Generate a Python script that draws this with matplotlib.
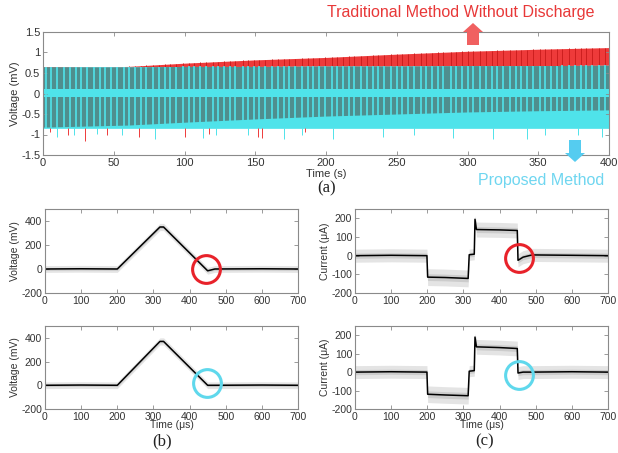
import numpy as np
import matplotlib.pyplot as plt
from matplotlib.patches import FancyArrow

plt.rcParams['font.family'] = ['Liberation Sans', 'DejaVu Sans']
plt.rcParams['axes.unicode_minus'] = False

# ---- (a) long-term recording, envelopes ----
t_env = [0, 60, 100, 150, 200, 250, 300, 350, 400]
red_hi = [0.63, 0.66, 0.74, 0.82, 0.88, 0.96, 1.03, 1.08, 1.12]
red_lo = [-0.82, -0.77, -0.70, -0.62, -0.55, -0.50, -0.45, -0.42, -0.40]
cyan_hi = [0.65, 0.65, 0.66, 0.66, 0.67, 0.67, 0.68, 0.68, 0.69]
cyan_lo = [-0.85, -0.85, -0.85, -0.85, -0.85, -0.85, -0.85, -0.85, -0.85]

pulse_t = [2, 6, 10, 15, 19, 23, 27, 31, 36, 40, 44, 48, 52, 57, 61, 65, 69, 73,
           78, 82, 86, 90, 94, 99, 103, 107, 111, 115, 120, 124, 128, 132, 136,
           141, 145, 149, 153, 157, 162, 166, 170, 174, 178, 183, 187, 191, 195,
           199, 204, 208, 212, 216, 220, 225, 229, 233, 237, 241, 246, 250, 254,
           258, 262, 267, 271, 275, 279, 283, 288, 292, 296, 300, 304, 309, 313,
           317, 321, 325, 330, 334, 338, 342, 346, 351, 355, 359, 363, 367, 372,
           376, 380, 384, 388, 393, 397]

cyan_spike_t = [10, 22, 38, 56, 79, 113, 122, 145, 170, 183, 205, 240, 262, 290,
                318, 342, 355, 378, 395]
cyan_spike_v = [-1.05, -1.0, -0.98, -1.02, -1.12, -1.08, -1.0, -1.02, -1.1, -1.0,
                -1.1, -1.05, -1.02, -1.08, -1.1, -1.12, -1.02, -1.0, -1.05]
red_spike_t = [5, 18, 30, 45, 68, 100, 117, 152, 155, 185]
red_spike_v = [-0.95, -1.0, -1.15, -1.0, -1.05, -1.05, -0.98, -1.05, -1.08, -0.95]

# ---- (b) voltage, (c) current: mean traces and noise half-widths ----
tb = [0, 100, 200, 318, 328, 450, 470, 600, 700]
vb_top = [0, 2, 0, 350, 350, -15, 0, 2, 0]
vb_bot = [0, 2, 0, 370, 370, 0, 0, 2, 0]
nb = [28, 28, 28, 30, 30, 28, 28, 28, 28]

tc = [0, 100, 199, 201, 250, 313, 316, 330, 332, 336, 400, 449, 451, 465, 490, 600, 700]
ic_top = [0, 2, 0, -115, -117, -122, 5, 8, 195, 140, 138, 135, -25, -8, 4, 2, 0]
ic_bot = [0, 2, 0, -120, -124, -128, 5, 8, 190, 137, 133, 128, -5, 0, 0, 2, 0]
nc = [35, 35, 35, 45, 45, 45, 30, 30, 20, 40, 40, 40, 35, 35, 35, 35, 35]

ya_ticks = [-1.5, -1, -0.5, 0, 0.5, 1, 1.5]
ya_labels = ['-1.5', '-1', '-0.5', '0', '0.5', '1', '1.5']

RED = '#ee3a3a'
CYAN = '#4fe3ea'
TEAL = '#4f8e8e'
GRID = '#8a8a8a'
TXT = '#333333'

fig = plt.figure(figsize=(6.18, 4.53), dpi=100)


def style(ax, fs):
    for s in ax.spines.values():
        s.set_color(GRID)
        s.set_linewidth(0.8)
    ax.tick_params(direction='in', length=3, width=0.6, color=GRID,
                   labelsize=fs, labelcolor=TXT, top=True, right=True, pad=2)


# (a)
ax = fig.add_axes([43 / 618, 1 - 155 / 453, 566 / 618, 123 / 453])
ax.fill_between(t_env, cyan_lo, cyan_hi, color=CYAN, lw=0)
ax.fill_between(t_env, cyan_hi, red_hi, color=RED, lw=0)
ax.fill_between(t_env, red_lo, cyan_hi, color=TEAL, lw=0)
pt = np.array(pulse_t)
top_red = np.maximum(np.interp(pt, t_env, red_hi), np.interp(pt, t_env, cyan_hi))
ax.vlines(pt, np.interp(pt, t_env, cyan_hi), top_red, color='#cc1f1f', lw=0.7)
ax.vlines(pt, np.interp(pt, t_env, cyan_lo), np.interp(pt, t_env, cyan_hi),
          color=CYAN, lw=1.2)
ax.vlines(red_spike_t, -0.85, red_spike_v, color=RED, lw=0.7)
ax.vlines(cyan_spike_t, -0.85, cyan_spike_v, color=CYAN, lw=0.7)
ax.fill_between(t_env, -0.09, 0.11, color=CYAN, lw=0)
ax.set_xlim(0, 400)
ax.set_ylim(-1.5, 1.5)
ax.set_xticks(range(0, 401, 50))
ax.set_yticks(ya_ticks)
ax.set_yticklabels(ya_labels)
ax.set_ylabel('Voltage (mV)', fontsize=8, color=TXT, labelpad=1)
ax.set_xlabel('Time (s)', fontsize=8, color=TXT, labelpad=1)
style(ax, 8)


def panel(rect, t, y, n, ylim, yt, ylab, circ, ccol, xlab):
    a = fig.add_axes(rect)
    y = np.array(y, float)
    n = np.array(n, float)
    a.fill_between(t, y - n, y + n, color='#e4e4e4', lw=0)
    a.fill_between(t, y - n / 2.5, y + n / 2.5, color='#cccccc', lw=0)
    a.plot(t, y, color='black', lw=1.1)
    a.plot([circ[0]], [circ[1]], 'o', ms=20, mfc='none', mec=ccol, mew=2.2)
    a.set_xlim(0, 700)
    a.set_ylim(*ylim)
    a.set_xticks(range(0, 701, 100))
    a.set_yticks(yt)
    a.set_ylabel(ylab, fontsize=7.5, color=TXT, labelpad=1)
    if xlab:
        a.set_xlabel('Time (\u03bcs)', fontsize=7.5, color=TXT, labelpad=-1)
    style(a, 7.5)
    return a


CRED = '#e8222a'
CCY = '#5fd8ec'
wl = 253 / 618
panel([45 / 618, 1 - 293 / 453, wl, 84 / 453], tb, vb_top, nb, (-200, 500),
      [-200, 0, 200, 400], 'Voltage (mV)', (445, 0), CRED, False)
panel([45 / 618, 1 - 409 / 453, wl, 83 / 453], tb, vb_bot, nb, (-200, 500),
      [-200, 0, 200, 400], 'Voltage (mV)', (447, 20), CCY, True)
panel([355 / 618, 1 - 293 / 453, wl, 84 / 453], tc, ic_top, nc, (-200, 250),
      [-200, -100, 0, 100, 200], 'Current (\u03bcA)', (454, -15), CRED, False)
panel([355 / 618, 1 - 409 / 453, wl, 83 / 453], tc, ic_bot, nc, (-200, 250),
      [-200, -100, 0, 100, 200], 'Current (\u03bcA)', (454, -15), CCY, True)

# annotations
fig.text(461 / 618, 1 - 13 / 453, 'Traditional Method Without Discharge',
         color='#e83838', fontsize=11.5, ha='center', va='center')
fig.text(541 / 618, 1 - 180 / 453, 'Proposed Method',
         color='#6fd6f0', fontsize=11.5, ha='center', va='center')
fig.patches.append(FancyArrow(473 / 618, 1 - 45 / 453, 0, 22 / 453,
                              width=12 / 618, head_width=20 / 618,
                              head_length=9 / 453, length_includes_head=True,
                              color='#f06060', lw=0, transform=fig.transFigure))
fig.patches.append(FancyArrow(575 / 618, 1 - 140 / 453, 0, -22 / 453,
                              width=12 / 618, head_width=20 / 618,
                              head_length=9 / 453, length_includes_head=True,
                              color='#55ccf0', lw=0, transform=fig.transFigure))

for x, y, s in [(327, 188, '(a)'), (162, 441, '(b)'), (485, 441, '(c)')]:
    fig.text(x / 618, 1 - y / 453, s, fontsize=12, family='Liberation Serif',
             ha='center', va='center', color='#222222')

fig.savefig('out.png', dpi=100)
